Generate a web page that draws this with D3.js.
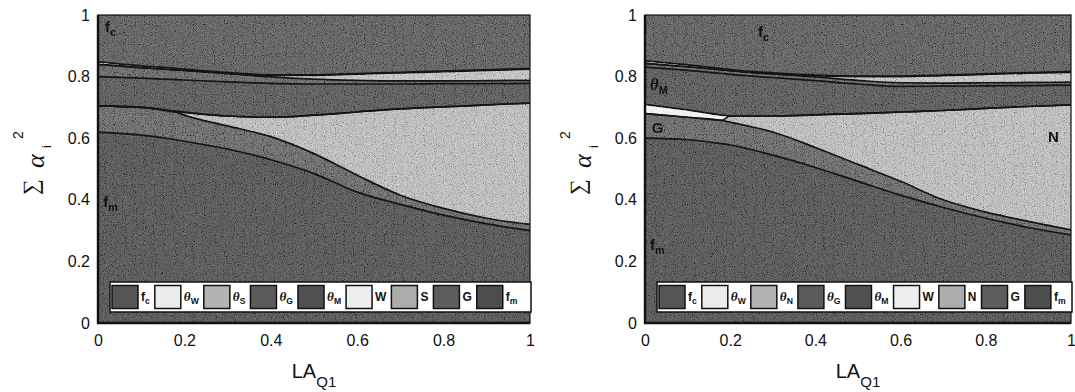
<!DOCTYPE html>
<html>
<head>
<meta charset="utf-8">
<script src="https://cdn.jsdelivr.net/npm/d3@7"></script>
<style>
  html, body { margin: 0; padding: 0; background: #fff; }
  svg { display: block; font-family: "Liberation Sans", Arial, sans-serif; }
</style>
</head>
<body>
<svg id="chart" width="1075" height="392"></svg>
<script>
"use strict"

// LA_Q1 sample points shared by both panels
const xs = [0, 0.1, 0.18, 0.2, 0.3, 0.4, 0.5, 0.6, 0.7, 0.8, 0.9, 1]

// left panel: thickness of each layer of sum alpha_i^2
const left_fm = [0.62, 0.61, 0.595, 0.59, 0.565, 0.53, 0.485, 0.425, 0.385, 0.35, 0.322, 0.30]
const left_G  = [0.085, 0.09, 0.09, 0.085, 0.075, 0.075, 0.065, 0.055, 0.03, 0.022, 0.018, 0.02]
const left_S  = [0, 0, 0, 0.008, 0.032, 0.063, 0.125, 0.205, 0.28, 0.33, 0.368, 0.394]
const left_W  = [0, 0, 0.003, 0.002, 0, 0, 0, 0, 0, 0, 0, 0]
const left_tM = [0.095, 0.095, 0.102, 0.104, 0.111, 0.11, 0.101, 0.091, 0.081, 0.075, 0.069, 0.064]
const left_tG = [0.04, 0.034, 0.032, 0.031, 0.027, 0.021, 0.016, 0.012, 0.01, 0.009, 0.01, 0.01]
const left_tS = [0, 0, 0, 0, 0, 0.005, 0.012, 0.02, 0.026, 0.03, 0.033, 0.036]
const left_tW = [0.008, 0.006, 0.005, 0.004, 0.003, 0.002, 0.002, 0.002, 0.002, 0.002, 0.002, 0.002]
const left_fc = [0.152, 0.165, 0.173, 0.176, 0.187, 0.194, 0.194, 0.19, 0.186, 0.182, 0.178, 0.174]

// right panel (N takes the place of S)
const right_fm = [0.60, 0.595, 0.582, 0.578, 0.545, 0.505, 0.46, 0.415, 0.375, 0.34, 0.31, 0.286]
const right_G  = [0.08, 0.073, 0.076, 0.074, 0.075, 0.065, 0.055, 0.045, 0.025, 0.02, 0.02, 0.016]
const right_N  = [0, 0, 0, 0.02, 0.052, 0.106, 0.165, 0.225, 0.29, 0.337, 0.373, 0.406]
const right_W  = [0.03, 0.024, 0.017, 0, 0, 0, 0, 0, 0, 0, 0, 0]
const right_tM = [0.121, 0.128, 0.135, 0.135, 0.125, 0.111, 0.096, 0.083, 0.079, 0.073, 0.068, 0.064]
const right_tG = [0.012, 0.012, 0.012, 0.012, 0.012, 0.012, 0.012, 0.012, 0.01, 0.01, 0.01, 0.01]
const right_tN = [0, 0, 0, 0, 0, 0.004, 0.012, 0.02, 0.024, 0.027, 0.03, 0.032]
const right_tW = [0.008, 0.006, 0.004, 0.004, 0.003, 0.002, 0.002, 0.002, 0.002, 0.002, 0.002, 0.002]
const right_fc = [0.149, 0.162, 0.174, 0.177, 0.188, 0.195, 0.198, 0.198, 0.195, 0.191, 0.187, 0.184]

const xTicks = [0, 0.2, 0.4, 0.6, 0.8, 1]
const yTicks = [0, 0.2, 0.4, 0.6, 0.8, 1]

// stack order, bottom to top
const keys = ['fm', 'G', 'S', 'W', 'tM', 'tG', 'tS', 'tW', 'fc']
// legend order
const legendKeys = ['fc', 'tW', 'tS', 'tG', 'tM', 'W', 'S', 'G', 'fm']

const fills = {
   fc: '#555555', tW: '#ececec', tS: '#b3b3b3', tG: '#5b5b5b', tM: '#515151',
   W: '#eeeeee', S: '#acacac', G: '#5d5d5d', fm: '#4d4d4d'
}

// label = [main, sub, is greek]
const leftNames = {
   fc: ['f', 'c', false], tW: ['θ', 'W', true], tS: ['θ', 'S', true], tG: ['θ', 'G', true],
   tM: ['θ', 'M', true], W: ['W', '', false], S: ['S', '', false], G: ['G', '', false], fm: ['f', 'm', false]
}
const rightNames = Object.assign({}, leftNames, { tS: ['θ', 'N', true], S: ['N', '', false] })

// in-plot annotations, in data units
const leftNotes = [
   { t: ['f', 'c', false], x: 0.016, y: 0.945 },
   { t: ['f', 'm', false], x: 0.012, y: 0.377 }
]
const rightNotes = [
   { t: ['f', 'c', false], x: 0.265, y: 0.929 },
   { t: ['θ', 'M', true], x: 0.012, y: 0.756 },
   { t: ['G', '', false], x: 0.016, y: 0.617 },
   { t: ['N', '', false], x: 0.946, y: 0.588 },
   { t: ['f', 'm', false], x: 0.012, y: 0.237 }
]

const ink = '#111'
const serif = '"Liberation Serif", "Times New Roman", serif'
const sans = '"Liberation Sans", Arial, sans-serif'

const svg = d3.select('#chart')
const defs = svg.append('defs')

const grain = defs.append('filter')
   .attr('id', 'grain')
   .attr('x', 0).attr('y', 0).attr('width', 1).attr('height', 1)
grain.append('feTurbulence')
   .attr('type', 'fractalNoise')
   .attr('baseFrequency', 1.1)
   .attr('numOctaves', 1)
   .attr('seed', 7)
grain.append('feColorMatrix').attr('type', 'saturate').attr('values', 0)
const ct = grain.append('feComponentTransfer')
;['feFuncR', 'feFuncG', 'feFuncB'].forEach(f => ct.append(f).attr('type', 'linear').attr('slope', 3).attr('intercept', -1))
ct.append('feFuncA').attr('type', 'linear').attr('slope', 0).attr('intercept', 1)

function rows(cols) {
   return xs.map((x, i) => {
      const r = { x: x }
      keys.forEach(k => r[k] = cols[k][i])
      return r
   })
}

function addLabel(sel, t, size) {
   const txt = sel.append('text').attr('fill', ink)
   txt.append('tspan')
      .attr('font-family', t[2] ? serif : sans)
      .attr('font-style', t[2] ? 'italic' : null)
      .attr('font-weight', 'bold')
      .attr('font-size', t[2] ? size * 1.1 : size)
      .attr('fill', ink)
      .text(t[0])
   if (t[1]) {
      txt.append('tspan')
         .attr('font-family', sans)
         .attr('font-weight', 'bold')
         .attr('font-size', size * 0.72)
         .attr('dy', size * 0.28)
         .attr('fill', ink)
         .text(t[1])
   }
   return txt
}

function panel(id, left, right, data, names, notes) {
   const top = 15, bottom = 323
   const x = d3.scaleLinear([0, 1], [left, right])
   const y = d3.scaleLinear([0, 1], [bottom, top])
   const series = d3.stack().keys(keys)(data)

   defs.append('clipPath').attr('id', 'clip-' + id)
      .append('rect')
         .attr('x', left).attr('y', top)
         .attr('width', right - left).attr('height', bottom - top)

   const g = svg.append('g').attr('clip-path', `url(#clip-${id})`)

   const area = d3.area()
      .x(d => x(d.data.x))
      .y0(d => y(d[0]))
      .y1(d => y(d[1]))
      .curve(d3.curveMonotoneX)

   g.selectAll('path.layer')
      .data(series)
      .enter()
      .append('path')
         .attr('class', 'layer')
         .attr('fill', d => fills[d.key])
         .attr('d', area)

   const edge = d3.line()
      .x(d => x(d.data.x))
      .y(d => y(d[1]))
      .curve(d3.curveMonotoneX)

   g.selectAll('path.edge')
      .data(series.slice(0, -1))
      .enter()
      .append('path')
         .attr('class', 'edge')
         .attr('fill', 'none')
         .attr('stroke', ink)
         .attr('stroke-width', 1.7)
         .attr('d', edge)

   g.append('rect')
      .attr('x', left).attr('y', top)
      .attr('width', right - left).attr('height', bottom - top)
      .attr('filter', 'url(#grain)')
      .style('mix-blend-mode', 'overlay')
      .attr('opacity', 0.5)

   notes.forEach(n => {
      addLabel(g, n.t, 15).attr('x', x(n.x)).attr('y', y(n.y))
   })

   // frame
   svg.append('rect')
      .attr('x', left).attr('y', top)
      .attr('width', right - left).attr('height', bottom - top)
      .attr('fill', 'none').attr('stroke', ink).attr('stroke-width', 1.2)
   svg.append('path')
      .attr('d', `M${left},${top}V${bottom}H${right}`)
      .attr('fill', 'none').attr('stroke', ink).attr('stroke-width', 2.4)

   // legend
   const lg = svg.append('g').attr('transform', `translate(${left + 12},${bottom - 41})`)
   lg.append('rect')
      .attr('width', right + 1 - left - 12).attr('height', 30)
      .attr('fill', '#fff').attr('stroke', ink).attr('stroke-width', 1.5)
   let lx = 2
   legendKeys.forEach(k => {
      lg.append('rect')
         .attr('x', lx).attr('y', 3.5)
         .attr('width', 26).attr('height', 23)
         .attr('fill', fills[k]).attr('stroke', ink).attr('stroke-width', 1.5)
      const t = addLabel(lg, names[k], 12).attr('x', lx + 29).attr('y', 19)
      lx += 29 + t.node().getComputedTextLength() + 5
   })

   // axes
   svg.append('g')
      .attr('transform', `translate(${left},0)`)
      .call(d3.axisLeft(y).tickValues(yTicks).tickSize(0).tickPadding(8).tickFormat(d => String(d)))
      .call(a => a.select('.domain').remove())
      .selectAll('text').attr('font-size', 16).attr('fill', ink).attr('font-family', sans)

   svg.append('g')
      .attr('transform', `translate(0,${bottom})`)
      .call(d3.axisBottom(x).tickValues(xTicks).tickSize(0).tickPadding(12).tickFormat(d => String(d)))
      .call(a => a.select('.domain').remove())
      .selectAll('text').attr('font-size', 16).attr('fill', ink).attr('font-family', sans)

   // x title
   const xt = svg.append('text')
      .attr('x', (left + right) / 2).attr('y', 378)
      .attr('text-anchor', 'middle').attr('fill', ink).attr('font-family', sans)
   xt.append('tspan').attr('font-size', 20).attr('fill', ink).text('LA')
   xt.append('tspan').attr('font-size', 15).attr('dy', 9).attr('fill', ink).text('Q1')

   // y title, rotated
   const yt = svg.append('g')
      .attr('transform', `translate(${left - 60},195) rotate(-90)`)
   yt.append('text').attr('x', 0).attr('y', 0).attr('fill', ink)
      .attr('font-family', serif).attr('font-size', 22).text('∑')
   yt.append('text').attr('x', 27).attr('y', 6).attr('fill', ink)
      .attr('font-family', serif).attr('font-style', 'italic').attr('font-size', 26).text('α')
   yt.append('text').attr('x', 47).attr('y', 13).attr('fill', ink)
      .attr('font-family', sans).attr('font-size', 13).text('i')
   yt.append('text').attr('x', 56).attr('y', -15).attr('fill', ink)
      .attr('font-family', sans).attr('font-size', 14).text('2')
}

panel('l', 98, 530, rows({
   fm: left_fm, G: left_G, S: left_S, W: left_W, tM: left_tM, tG: left_tG, tS: left_tS, tW: left_tW, fc: left_fc
}), leftNames, leftNotes)

panel('r', 645, 1071, rows({
   fm: right_fm, G: right_G, S: right_N, W: right_W, tM: right_tM, tG: right_tG, tS: right_tN, tW: right_tW, fc: right_fc
}), rightNames, rightNotes)
</script>
</body>
</html>
